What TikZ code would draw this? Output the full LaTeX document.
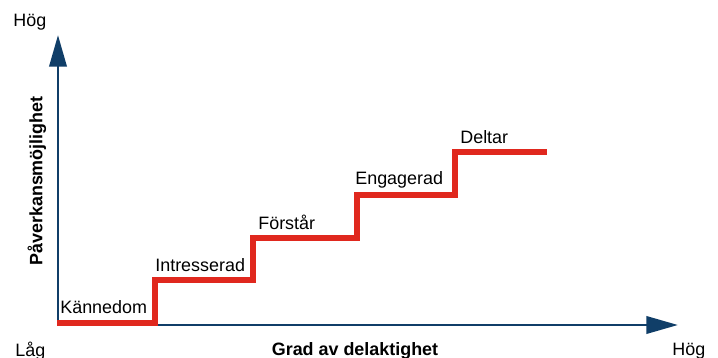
\documentclass[tikz,border=0pt]{standalone}
\usepackage{fontspec}
\setmainfont{Liberation Sans}
\usepackage{tikz}
\usetikzlibrary{arrows.meta}
\definecolor{axisblue}{RGB}{16, 62, 104}
\definecolor{stairred}{RGB}{224, 40, 30}

\tikzset{
    axis/.style    = {axisblue, line width=1.7pt, -{Triangle[length=18pt, width=9.8pt]}},
    stair/.style   = {stairred, line width=3.4pt, line join=miter},
    lbl/.style     = {inner sep=0pt, font=\fontsize{10.2}{12}\selectfont},
    axlbl/.style   = {lbl, font=\fontsize{10.2}{12}\selectfont\bfseries}
}

\begin{document}
\begin{tikzpicture}[x=0.02cm, y=-0.02cm]
            \useasboundingbox                                   (  0,  0) rectangle (718,358);
            % axes
            \coordinate (origin) at ( 58,325);
            \coordinate (ytop)   at ( 58, 35);
            \coordinate (xend)   at (678,325);
            \draw[axis] (origin) -- (ytop);
            \draw[axis] (origin) -- (xend);
            % staircase
            \draw[stair] ( 57,323) -- (155,323) -- (155,280) -- (253,280) -- (253,238)
                      -- (357,238) -- (357,195) -- (455,195) -- (455,152) -- (547,152);
            % step labels
            \node[lbl, anchor=west] (kannedom)  at ( 60,307) {Kännedom};
            \node[lbl, anchor=west] (intresse)  at (155,265) {Intresserad};
            \node[lbl, anchor=west] (forstar)   at (258,222) {Förstår};
            \node[lbl, anchor=west] (engagerad) at (355,180) {Engagerad};
            \node[lbl, anchor=west] (deltar)    at (460,137) {Deltar};
            % axis labels
            \node[lbl, anchor=west]  (yhog) at ( 13, 22) {Hög};
            \node[lbl, anchor=west]  (xlag) at ( 15,351) {Låg};
            \node[lbl, anchor=west]  (xhog) at (672,351) {Hög};
            \node[axlbl]             (xname) at (355,351) {Grad av delaktighet};
            \node[axlbl, rotate=90]  (yname) at ( 37,181) {Påverkansmöjlighet};
\end{tikzpicture}
\end{document}
